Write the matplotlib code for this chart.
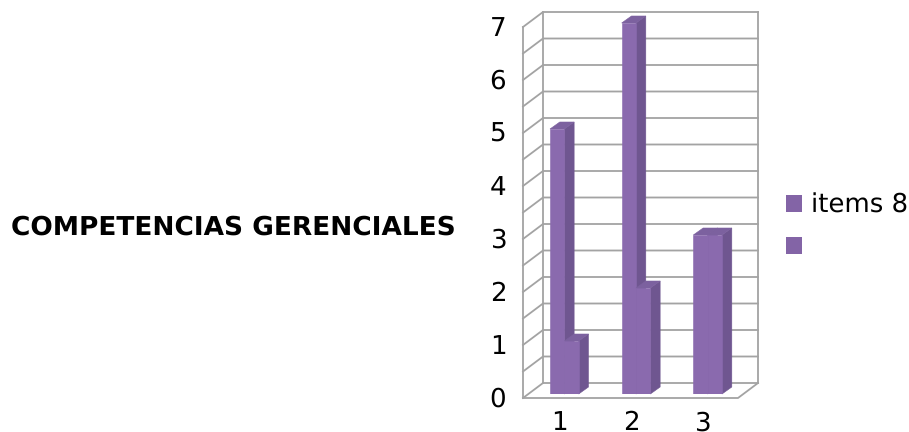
import matplotlib
matplotlib.use("Agg")
import matplotlib.pyplot as plt
from matplotlib.patches import Polygon, Patch
from matplotlib.transforms import IdentityTransform, ScaledTranslation

plt.rcParams["text.hinting"] = "no_hinting"

# Chart content
categories = [1, 2, 3]
series_a = [5, 7, 3]
series_b = [1, 2, 3]
series_names = ["items 8", " "]
y_ticks = [0, 1, 2, 3, 4, 5, 6, 7]
y_grid = [0, 0.5, 1, 1.5, 2, 2.5, 3, 3.5, 4, 4.5, 5, 5.5, 6, 6.5, 7]
title_text = "COMPETENCIAS GERENCIALES"

# Colours
FRONT = "#8a6aae"
SIDE = "#6f5690"
TOP = "#7c619f"
LEGEND = "#8364a6"
WALL = "#a3a3a3"

W, H = 909, 432
fig = plt.figure(figsize=(W / 100, H / 100), dpi=100)

# The axes span the plane in which the bars' front faces stand
left, right, bottom, top = 528.5, 743.5, 394.0, 23.0
ax = fig.add_axes([left / W, 1 - bottom / H, (right - left) / W, (bottom - top) / H])
ax.set_xlim(0.5, 3.5)
ax.set_ylim(0, 7)
ax.patch.set_visible(False)
for s in ax.spines.values():
    s.set_visible(False)


def project(x, y, shift=(0.0, 0.0)):
    """Data point to display pixels, pushed along the oblique depth direction."""
    px, py = ax.transData.transform((x, y))
    return px + shift[0], py + shift[1]


# Depth offsets in pixels, relative to the bar plane
WALL_FRONT = (-5.5, -4.0)
WALL_BACK = (14.5, 11.0)
BAR_DEPTH = (9.8, 7.0)


def wall_line(points):
    xs, ys = zip(*points)
    ax.plot(xs, ys, color=WALL, lw=1.3, transform=IdentityTransform(),
            clip_on=False, zorder=1, solid_capstyle="projecting")


x_lo, x_hi = 0.5, 3.5
for v in y_grid:
    wall_line([project(x_lo, v, WALL_FRONT), project(x_lo, v, WALL_BACK),
               project(x_hi, v, WALL_BACK)])
wall_line([project(x_lo, 0, WALL_FRONT), project(x_lo, 7, WALL_FRONT)])
wall_line([project(x_lo, 0, WALL_BACK), project(x_lo, 7, WALL_BACK)])
wall_line([project(x_hi, 0, WALL_BACK), project(x_hi, 7, WALL_BACK)])
wall_line([project(x_lo, 0, WALL_FRONT), project(x_hi, 0, WALL_FRONT),
            project(x_hi, 0, WALL_BACK)])

bar_w = 14.35 / 71.7


def draw_series(values, x_offset, base_z):
    for cat, val in zip(categories, values):
        x0 = cat + x_offset
        x1 = x0 + bar_w
        side = [project(x1, 0), project(x1, val),
                project(x1, val, BAR_DEPTH), project(x1, 0, BAR_DEPTH)]
        cap = [project(x0, val), project(x1, val),
               project(x1, val, BAR_DEPTH), project(x0, val, BAR_DEPTH)]
        ax.add_patch(Polygon(side, closed=True, fc=SIDE, ec=SIDE, lw=0.4,
                             transform=IdentityTransform(), clip_on=False, zorder=base_z))
        ax.add_patch(Polygon(cap, closed=True, fc=TOP, ec=TOP, lw=0.4,
                             transform=IdentityTransform(), clip_on=False, zorder=base_z))
        # Front face goes on last so its edge hides the seams with side and cap
        ax.bar(x0, val, width=bar_w, align="edge", color=FRONT, ec=FRONT, lw=0.4,
               zorder=base_z + 1)


draw_series(series_a, -bar_w, 3)
draw_series(series_b, 0.0, 5)

# Axis labels sit on the front edge of the box
ax.set_yticks(y_ticks)
ax.set_xticks(categories)
ax.tick_params(length=0, labelsize=18.8, labelcolor="black", pad=0)
ax.tick_params(axis="y", pad=16)
ax.tick_params(axis="x", pad=26.2)
for lab in ax.get_xticklabels():
    # A shared baseline keeps the digits level whatever their glyph height
    lab.set_verticalalignment("baseline")
    lab.set_transform(lab.get_transform() + ScaledTranslation(-5 / 100, 0, fig.dpi_scale_trans))
for lab in ax.get_yticklabels():
    lab.set_transform(lab.get_transform() + ScaledTranslation(0, -3 / 100, fig.dpi_scale_trans))

fig.text(11 / W, 1 - 227 / H, title_text, fontsize=19, fontweight="bold",
         ha="left", va="center", color="black")

handles = [Patch(fc=LEGEND, ec="none", label=n) for n in series_names]
fig.legend(handles=handles, loc="center left", bbox_to_anchor=(786 / W, 1 - 226.7 / H),
           frameon=False, fontsize=18.7, handlelength=0.63, handleheight=0.63,
           handletextpad=0.35, labelspacing=0.63, borderpad=0, borderaxespad=0)

fig.savefig("out.png", dpi=100)
